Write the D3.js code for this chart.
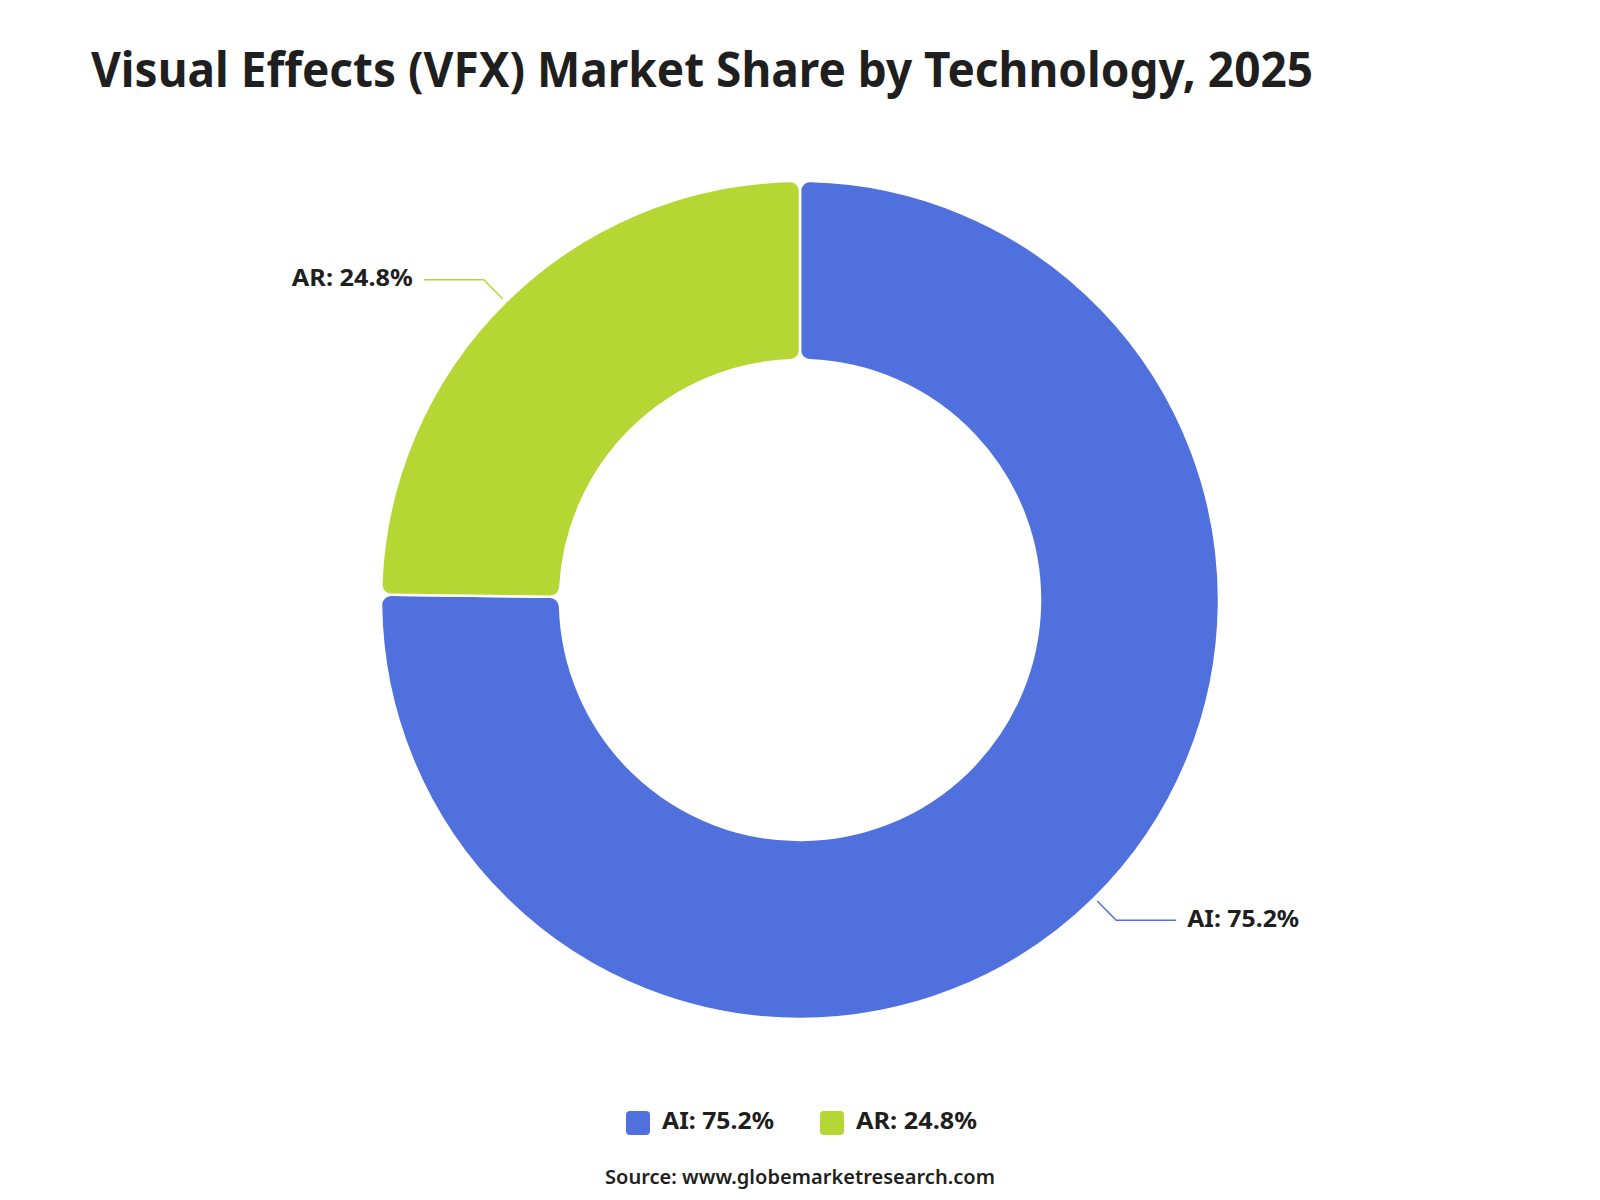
<!DOCTYPE html>
<html>
<head>
<meta charset="utf-8">
<script src="https://cdn.jsdelivr.net/npm/d3@7"></script>
<style>
  html, body { margin: 0; padding: 0; background: #ffffff; }
  svg { display: block; }
  text { font-family: "Noto Sans", "Open Sans", sans-serif; }
</style>
</head>
<body>
<svg id="chart" width="1600" height="1200"></svg>
<script>
const title = "Visual Effects (VFX) Market Share by Technology, 2025";
const categories = ["AI", "AR"];
const shares = [75.2, 24.8];
const colors = ["#5070dd", "#b6d634"];
const source = "Source: www.globemarketresearch.com";

const W = 1600, H = 1200;
const cx = 800, cy = 600;
const outerR = 419, innerR = 240;

const svg = d3.select("#chart");

svg.append("text")
  .attr("x", 91).attr("y", 87)
  .attr("font-size", 48).attr("font-weight", 700)
  .attr("fill", "#1f1f1f")
  .attr("textLength", 1222).attr("lengthAdjust", "spacingAndGlyphs")
  .text(title);

const data = categories.map((c, i) => ({ name: c, value: shares[i], color: colors[i] }));

const pie = d3.pie().sort(null).value(d => d.value);
const arcs = pie(data);

const arc = d3.arc().innerRadius(innerR).outerRadius(outerR).cornerRadius(10);

const g = svg.append("g").attr("transform", `translate(${cx},${cy})`);

g.selectAll("path.slice")
  .data(arcs)
  .enter().append("path")
  .attr("class", "slice")
  .attr("d", arc)
  .attr("fill", d => d.data.color)
  .attr("stroke", "#ffffff")
  .attr("stroke-width", 2.5)
  .attr("stroke-linejoin", "round");

// label widths to mimic the reference font metrics
const labelWidth = { AI: 112, AR: 121 };

// Leader lines and labels
const fmt = d => `${d.data.name}: ${d.data.value.toFixed(1)}%`;
arcs.forEach(d => {
  const mid = (d.startAngle + d.endAngle) / 2;
  const sx = Math.sin(mid), sy = -Math.cos(mid);
  const p0 = [sx * (outerR + 4), sy * (outerR + 4)];
  const p1 = [sx * (outerR + 31), sy * (outerR + 31)];
  const right = sx >= 0;
  const p2 = [p1[0] + (right ? 60 : -60), p1[1]];
  g.append("polyline")
    .attr("points", [p0, p1, p2].map(p => p.join(",")).join(" "))
    .attr("fill", "none")
    .attr("stroke", d.data.color)
    .attr("stroke-width", 1.5);
  g.append("text")
    .attr("x", p2[0] + (right ? 11 : -11))
    .attr("y", p2[1])
    .attr("dy", "0.27em")
    .attr("text-anchor", right ? "start" : "end")
    .attr("font-size", 24).attr("font-weight", 700)
    .attr("fill", "#1f1f1f")
    .attr("textLength", labelWidth[d.data.name]).attr("lengthAdjust", "spacingAndGlyphs")
    .text(fmt(d));
});

// Legend
const legendX = [626, 820];
const legend = svg.append("g");
arcs.forEach((d, i) => {
  const lg = legend.append("g").attr("transform", `translate(${legendX[i]},1111)`);
  lg.append("rect")
    .attr("width", 24).attr("height", 24).attr("rx", 4)
    .attr("fill", d.data.color);
  lg.append("text")
    .attr("x", 36).attr("y", 12).attr("dy", "0.27em")
    .attr("font-size", 24).attr("font-weight", 700)
    .attr("fill", "#1f1f1f")
    .attr("textLength", labelWidth[d.data.name]).attr("lengthAdjust", "spacingAndGlyphs")
    .text(fmt(d));
});

svg.append("text")
  .attr("x", 800).attr("y", 1177).attr("dy", "0.35em")
  .attr("text-anchor", "middle")
  .attr("font-size", 20).attr("font-weight", 600)
  .attr("fill", "#1f1f1f")
  .attr("textLength", 390).attr("lengthAdjust", "spacingAndGlyphs")
  .text(source);
</script>
</body>
</html>
